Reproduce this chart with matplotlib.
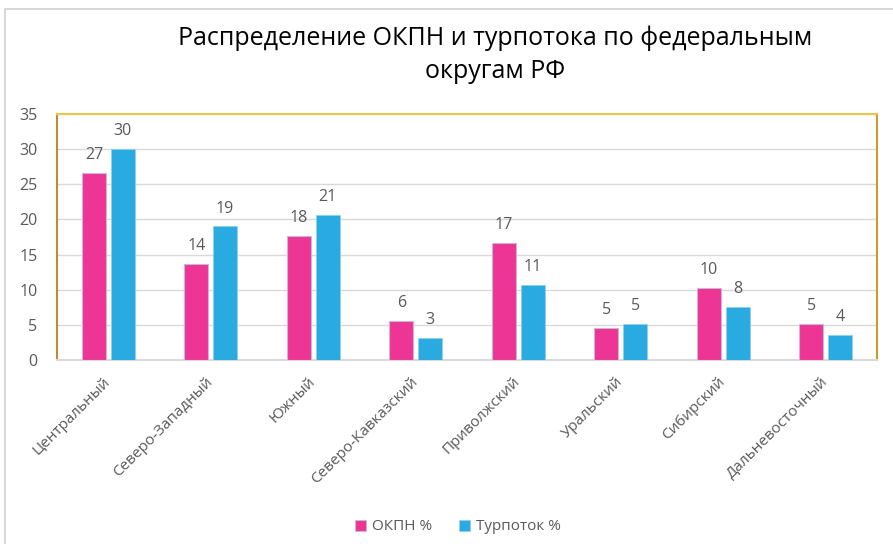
import numpy as np
import matplotlib
matplotlib.use('Agg')
import matplotlib.pyplot as plt
from matplotlib.patches import Rectangle

# data
districts = ['Центральный', 'Северо-Западный', 'Южный', 'Северо-Кавказский',
             'Приволжский', 'Уральский', 'Сибирский', 'Дальневосточный']
okpn = [26.6, 13.7, 17.7, 5.55, 16.6, 4.55, 10.2, 5.1]
turpotok = [30.0, 19.0, 20.7, 3.2, 10.7, 5.1, 7.6, 3.55]
series_names = ['ОКПН %', 'Турпоток %']

pink = '#EC3594'
blue = '#29ABE2'
txt = '#595959'

plt.rcParams['font.family'] = ['Open Sans', 'DejaVu Sans']

fig = plt.figure(figsize=(8.93, 5.44), dpi=100)
# outer chart frame (partly cut off in the reference)
fig.patches.append(Rectangle((5 / 893, -0.1), 1.2, 1 - 9 / 544 + 0.1,
                             transform=fig.transFigure, fill=False,
                             edgecolor='#D0D0D0', linewidth=1.2))

ax = fig.add_axes([57 / 893, 1 - 360 / 544, 820 / 893, 246 / 544])
x = np.arange(len(districts))
w = 0.235
b1 = ax.bar(x - 0.14, okpn, w, color=pink, edgecolor='#C9B6D6', linewidth=0.8,
            label=series_names[0], zorder=3)
b2 = ax.bar(x + 0.14, turpotok, w, color=blue, edgecolor='#8FD0EE', linewidth=0.5,
            label=series_names[1], zorder=3)

for bars, vals in ((b1, okpn), (b2, turpotok)):
    for r, v in zip(bars, vals):
        ax.text(r.get_x() + r.get_width() / 2, v + 1.4, '{:.0f}'.format(v),
                ha='center', va='bottom', fontsize=11.5, color=txt)

ax.set_xlim(-0.5, len(districts) - 0.5)
ax.set_ylim(0, 35)
ax.set_yticks(range(0, 36, 5))
ax.yaxis.grid(True, color='#D9D9D9', linewidth=1, zorder=0)
ax.set_axisbelow(True)
ax.tick_params(axis='y', length=0, pad=14, labelsize=11.5, labelcolor=txt)
ax.tick_params(axis='x', length=0, pad=14, labelsize=11, labelcolor=txt)
ax.set_xticks(x)
ax.set_xticklabels(districts, rotation=45, ha='right', va='center',
                   rotation_mode='anchor')

ax.spines['left'].set_color('#B8902E')
ax.spines['top'].set_color('#EFC44C')
ax.spines['right'].set_color('#C99A35')
ax.spines['bottom'].set_color('#D9D9D9')
for s in ax.spines.values():
    s.set_linewidth(1.5)

fig.text(495 / 893, 1 - 38 / 544, 'Распределение ОКПН и турпотока по федеральным',
         ha='center', va='center', fontsize=18, color='black')
fig.text(495 / 893, 1 - 72 / 544, 'округам РФ',
         ha='center', va='center', fontsize=18, color='black')

fig.legend(handles=[b1, b2], loc='center', bbox_to_anchor=(458 / 893, 1 - 527 / 544),
           ncol=2, frameon=False, fontsize=11, labelcolor=txt,
           handlelength=0.7, handleheight=0.7, handletextpad=0.4, columnspacing=1.8)

fig.savefig('out.png', dpi=100)
